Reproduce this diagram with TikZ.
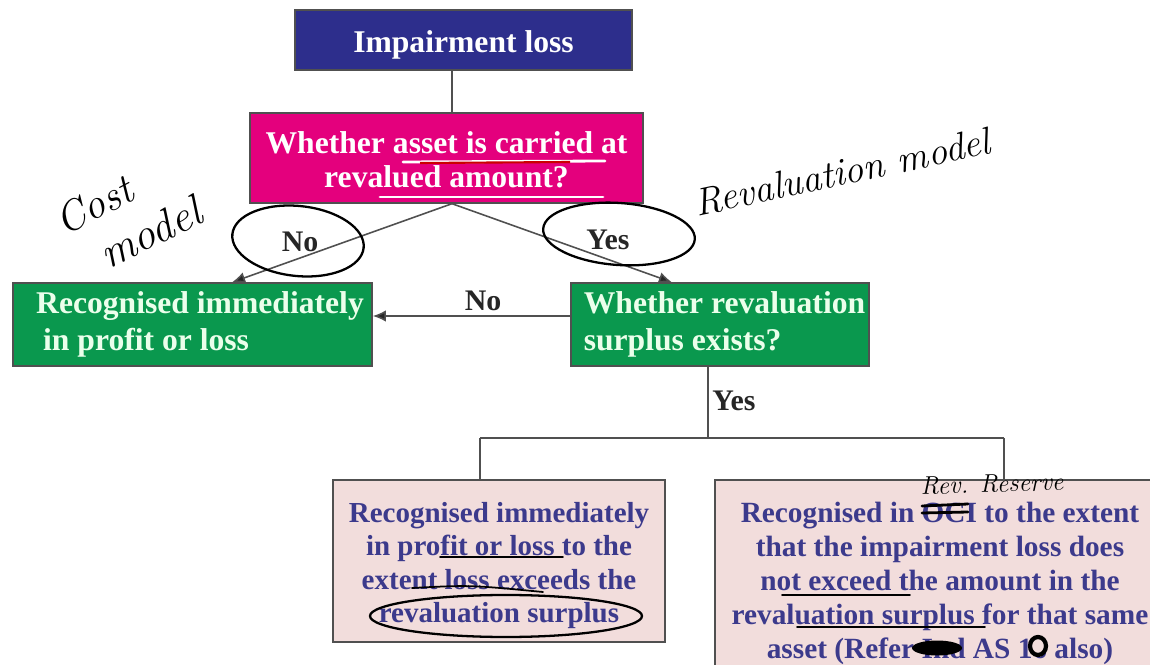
\documentclass[tikz,border=0pt]{standalone}
\usepackage{fontspec}
\usepackage{xcolor}
\usepackage{tikz}
\usetikzlibrary{arrows.meta, positioning}
\newfontfamily\timesfont{Liberation Serif}
\newcommand{\pushdown}[1]{\rule{0pt}{#1}}

\definecolor{impblue}{RGB}{45,46,140}
\definecolor{quesmag}{RGB}{228,0,125}
\definecolor{boxgreen}{RGB}{10,152,78}
\definecolor{notepink}{RGB}{242,221,220}
\definecolor{notetext}{RGB}{60,58,140}
\definecolor{edgegray}{RGB}{80,80,80}

\begin{document}
\begin{tikzpicture}[
  x=0.02cm, y=-0.02cm,
  base/.style  = {rectangle, draw=edgegray, line width=0.8pt, inner sep=0pt,
                  font=\timesfont\bfseries\fontsize{18}{19.5}\selectfont},
  headbox/.style = {base, fill=impblue, text=white,
                  minimum width=6.74cm, minimum height=1.2cm},
  quesbox/.style = {base, fill=quesmag, text=white, align=center,
                  minimum width=7.86cm, minimum height=1.8cm},
  greenbox/.style = {base, fill=boxgreen, text=white!92!green, align=left,
                  minimum height=1.66cm,
                  font=\timesfont\bfseries\fontsize{18}{21}\selectfont},
  notebox/.style = {base, fill=notepink, text=notetext, align=center},
  lbl/.style   = {font=\timesfont\bfseries\fontsize{17}{20}\selectfont,
                  text=black!85, inner sep=1pt},
  edge/.style  = {draw=edgegray, line width=0.9pt},
  arr/.style   = {edge, -{Latex[length=7.5pt,width=6.5pt,fill=black!85]}},
  pen/.style   = {black, line width=1.3pt, line cap=round},
  hand/.style  = {font=\itshape, text=black, inner sep=0pt},
]
\useasboundingbox (0,0) rectangle (1150,665);
\clip (0,0) rectangle (1150,665);

% boxes
\node[headbox] (imp) at (463.5,40) {\pushdown{0.62cm}Impairment loss};
\node[quesbox] (ques) at (446.5,158) {\pushdown{0.52cm}Whether asset is carried at\\revalued amount?};
\node[greenbox, minimum width=7.18cm] (plnow) at (192.5,324.5)
  {\hspace*{0.3cm}Recognised immediately\\\hspace*{0.44cm}in profit or loss};
\node[greenbox, minimum width=5.96cm] (surp) at (720,324.5)
  {\hspace*{0.18cm}Whether revaluation\\\hspace*{0.18cm}surplus exists?};
\node[notebox, minimum width=6.64cm, minimum height=3.24cm,
      font=\timesfont\bfseries\fontsize{16.5}{18.9}\selectfont] (plext) at (499,561)
  {\pushdown{0.58cm}Recognised immediately\\in profit or loss to the\\extent loss exceeds the\\revaluation surplus};
\node[notebox, minimum width=9cm, minimum height=4.04cm,
      font=\timesfont\bfseries\fontsize{16.7}{19.4}\selectfont] (oci) at (940,581)
  {\pushdown{0.5cm}Recognised in OCI to the extent\\that the impairment loss does\\not exceed the amount in the\\revaluation surplus for that same\\asset (Refer Ind AS 16 also)};

% labels
\node[lbl] (nocost) at (300,242) {No};
\node[lbl] (yesrev) at (608,240) {Yes};
\node[lbl] (nosurp) at (483,301) {No};
\node[lbl] (yessurp) at (734,401) {Yes};

% connectors
\coordinate (stem) at (452,0);
\draw[edge] (imp.south -| stem) -- (ques.north -| stem);
\draw[arr] (ques.south -| stem) -- ([xshift=0.79cm]plnow.north);
\draw[arr] (ques.south -| stem) -- ([xshift=-0.96cm]surp.north);
\draw[arr] ([yshift=0.17cm]surp.west) -- ([yshift=0.17cm]plnow.east);

\coordinate (split) at (708,438);
\coordinate (lft) at (480,438);
\coordinate (rgt) at (1004,438);
\draw[edge] (split |- surp.south) -- (split);
\draw[edge] (lft) -- (rgt);
\draw[edge] (lft) -- (lft |- plext.north);
\draw[edge] (rgt) -- (rgt |- oci.north);

% handwritten notes
\node[hand, rotate=28, font=\itshape\fontsize{24}{26}\selectfont] (costnote) at (94,205) {Cost};
\node[hand, rotate=26, font=\itshape\fontsize{25}{26}\selectfont] (modelnote) at (150,232) {model};
\node[hand, rotate=12, font=\itshape\fontsize{22}{24}\selectfont] (revnote) at (842,172) {Revaluation model};
\node[hand, rotate=2, font=\itshape\fontsize{14.5}{15}\selectfont] (resnote) at (992,484) {Rev. Reserve};

\draw[pen, rotate around={-6:(298,241)}] (298,241) ellipse [x radius=1.32cm, y radius=0.7cm];
\draw[pen, rotate around={-4:(619,234)}] (619,234) ellipse [x radius=1.52cm, y radius=0.62cm];
\draw[pen] (506,616) ellipse [x radius=2.72cm, y radius=0.42cm];

\draw[white, line width=1.6pt, line cap=round] (403,162) -- (605,161);
\draw[red!80!black, line width=1.2pt] (420,163) -- (570,162);
\draw[white, line width=1.6pt, line cap=round] (380,197) -- (603,197);

\draw[pen, line width=1pt] (440,557) -- (563,557);
\draw[pen, line width=1pt] (412,588) .. controls (470,585) .. (543,592);
\draw[pen, line width=1pt] (782,595) -- (910,595);
\draw[pen, line width=1pt] (797,627) -- (985,627);

\draw[pen, line width=1.6pt] (922,506) -- (968,504);
\draw[pen, line width=1.6pt] (922,513) -- (968,512);
\fill[black] (937,648) ellipse [x radius=0.5cm, y radius=0.15cm];
\draw[pen, line width=2.4pt, fill=notepink] (1038,646) ellipse [x radius=0.16cm, y radius=0.18cm];
\end{tikzpicture}
\end{document}
